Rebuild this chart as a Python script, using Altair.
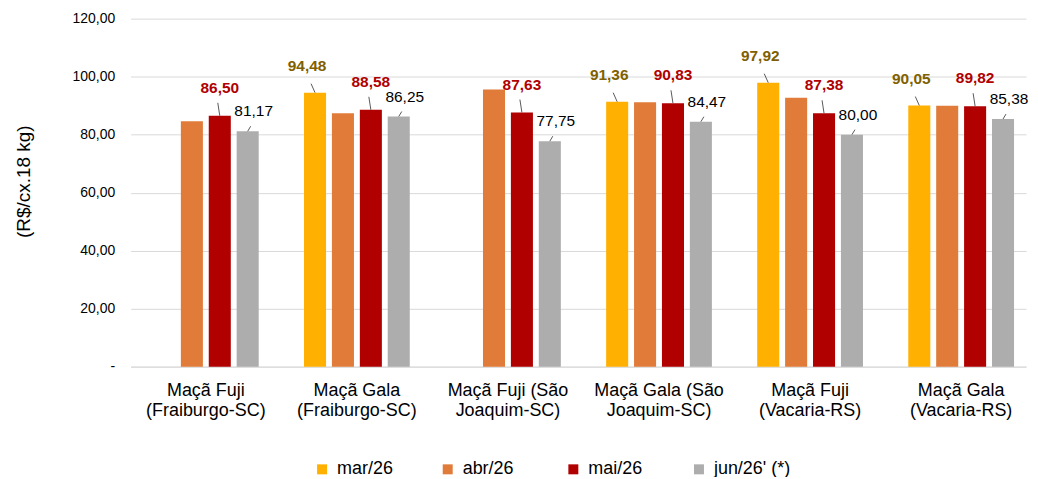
import altair as alt
import pandas as pd

categories = [
    "Maçã Fuji\n(Fraiburgo-SC)",
    "Maçã Gala\n(Fraiburgo-SC)",
    "Maçã Fuji (São\nJoaquim-SC)",
    "Maçã Gala (São\nJoaquim-SC)",
    "Maçã Fuji\n(Vacaria-RS)",
    "Maçã Gala\n(Vacaria-RS)",
]
series = ["mar/26", "abr/26", "mai/26", "jun/26' (*)"]
mar = [None, 94.48, None, 91.36, 97.92, 90.05]
abr = [84.6, 87.4, 95.6, 91.2, 92.7, 90.0]
mai = [86.50, 88.58, 87.63, 90.83, 87.38, 89.82]
jun = [81.17, 86.25, 77.75, 84.47, 80.00, 85.38]
colors = ["#FFB000", "#E07B39", "#B00000", "#ADADAD"]

rows = []
for s, vals in zip(series, [mar, abr, mai, jun]):
    for c, v in zip(categories, vals):
        if v is not None:
            rows.append({"cat": c, "series": s, "v": v})
df = pd.DataFrame(rows)

FONT = "Liberation Sans"

x_scale = alt.Scale(paddingInner=0.263, paddingOuter=0.095, align=0.68)
x_axis = alt.Axis(
    title=None, labelAngle=0, labelFontSize=18, labelColor="#000000",
    labelFont=FONT, labelPadding=15, labelLineHeight=20,
    labelExpr="split(datum.label, '\\n')", ticks=False,
    domainColor="#D9D9D9", labelLimit=300,
)
x_enc = alt.X("cat:N", sort=categories, scale=x_scale, axis=x_axis)
xo_enc = alt.XOffset(
    "series:N", sort=series,
    scale=alt.Scale(domain=series, paddingInner=0.21, paddingOuter=0.1),
)
y_scale = alt.Scale(domain=[0, 120])

base = alt.Chart(df).transform_calculate(
    lbl="replace(format(datum.v, '.2f'), '.', ',')"
)

bars = base.mark_bar().encode(
    x=x_enc,
    xOffset=xo_enc,
    y=alt.Y(
        "v:Q", scale=y_scale,
        axis=alt.Axis(
            title="(R$/cx.18 kg)", values=[0, 20, 40, 60, 80, 100, 120],
            labelExpr="datum.value == 0 ? '-' : replace(format(datum.value, '.2f'), '.', ',')",
            labelFontSize=14, labelFont=FONT, labelColor="#000000", labelPadding=16,
            ticks=False, domain=False, gridColor="#D9D9D9",
            titleFontSize=19, titleFont=FONT, titleFontWeight="normal", titleColor="#000000",
            titleAngle=-90, titleX=-107, titleY=163, titleAlign="center", titleBaseline="middle",
        ),
    ),
    color=alt.Color(
        "series:N", sort=series,
        scale=alt.Scale(domain=series, range=colors),
        legend=alt.Legend(
            title=None, orient="none", direction="horizontal", legendX=183, legendY=443,
            symbolType="square", symbolSize=100, symbolStrokeWidth=0,
            labelFontSize=18, labelFont=FONT, labelColor="#000000",
            columns=4, gridAlign="all", columnPadding=25, labelOffset=6, labelLimit=200,
        ),
    ),
)

# (series, text colour, weight, label dx, label dy, leader end dx, leader end dy)
label_styles = [
    ("mar/26", "#7F6000", "bold", -8, -19, -4, -9),
    ("mai/26", "#B00000", "bold", 0, -20, -2, -13),
    ("jun/26' (*)", "#000000", "normal", 6, -12, 3, -5),
]

center_expr = "scale('xOffset', datum.series) + bandwidth('xOffset') / 2"

layers = [bars]
for s, col, fw, dx, dy, lx, ly in label_styles:
    sub = base.transform_filter(alt.datum.series == s)
    layers.append(
        sub.mark_rule(
            color="#595959", strokeWidth=1,
            xOffset=alt.ExprRef(center_expr),
            x2Offset=alt.ExprRef(f"{center_expr} + ({lx})"),
            y2Offset=ly,
        ).encode(
            x=alt.X("cat:N", sort=categories, scale=x_scale, axis=x_axis, bandPosition=0),
            x2=alt.X2("cat:N", bandPosition=0),
            y=alt.Y("v:Q", scale=y_scale), y2=alt.Y2("v:Q"),
        )
    )
    layers.append(
        sub.mark_text(
            font=FONT, fontSize=15.5, fontWeight=fw, color=col,
            dx=dx, dy=dy, baseline="bottom", align="center",
        ).encode(
            x=x_enc, xOffset=xo_enc,
            y=alt.Y("v:Q", scale=y_scale),
            text="lbl:N",
        )
    )

chart = alt.layer(*layers).properties(
    width=898, height=349,
    autosize=alt.AutoSizeParams(type="none"),
    padding={"left": 123, "top": 10, "right": 4, "bottom": 110},
).configure_view(stroke=None)

chart.save("out.html", embed_options={"renderer": "svg", "actions": False})
